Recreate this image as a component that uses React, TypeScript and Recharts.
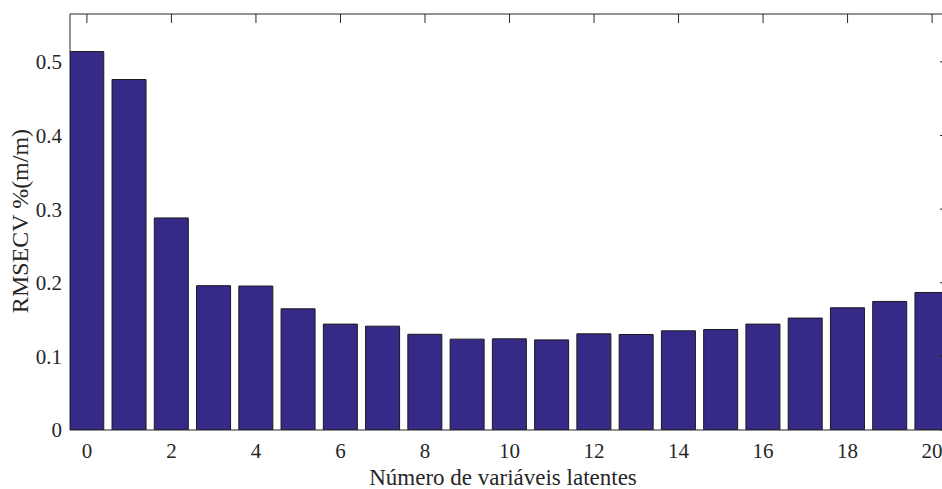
import React from 'react';
import { BarChart, Bar, XAxis, YAxis } from 'recharts';

// Number of latent variables (x) and cross-validation error (y)
const latentVariables = [0, 1, 2, 3, 4, 5, 6, 7, 8, 9, 10, 11, 12, 13, 14, 15, 16, 17, 18, 19, 20];
const rmsecv = [
  0.514, 0.476, 0.288, 0.196, 0.1955, 0.1646, 0.1438, 0.141, 0.13, 0.1234, 0.1238,
  0.1224, 0.1306, 0.1297, 0.1347, 0.1365, 0.1438, 0.152, 0.166, 0.1746, 0.1868,
];
const xTicks = [0, 2, 4, 6, 8, 10, 12, 14, 16, 18, 20];
const yTicks = [0, 0.1, 0.2, 0.3, 0.4, 0.5];
const xDomain: [number, number] = [-0.4, 20.4];
const yDomain: [number, number] = [0, 0.565];

const data = latentVariables.map((lv, i) => ({ lv, rmsecv: rmsecv[i] }));

const FONT = '"Liberation Serif", "Times New Roman", serif';
const INK = '#262626';
const TICK_LEN = 9;
const BOX_TOP = 14;

// Bottom tick label, plus the matching inward tick on the top edge of the box
const XTick = (props: any) => (
  <g>
    <line
      x1={props.x}
      y1={BOX_TOP}
      x2={props.x}
      y2={BOX_TOP + TICK_LEN}
      stroke={INK}
      strokeWidth={1}
    />
    <text
      x={props.x}
      y={props.y}
      dy="0.71em"
      textAnchor="middle"
      fontFamily={FONT}
      fontSize={21}
      fill={INK}
    >
      {props.payload.value}
    </text>
  </g>
);

// Inward tick marks on the right edge of the box
const RightTick = (props: any) => (
  <line x1={props.x - TICK_LEN} y1={props.y} x2={props.x} y2={props.y} stroke={INK} strokeWidth={1} />
);

const YTitle = () => (
  <text
    x={28}
    y={221}
    transform="rotate(-90 28 221)"
    textAnchor="middle"
    fontFamily={FONT}
    fontSize={24}
    fill={INK}
  >
    RMSECV %(m/m)
  </text>
);

const XTitle = () => (
  <text x={503} y={485} textAnchor="middle" fontFamily={FONT} fontSize={23} fill={INK}>
    Número de variáveis latentes
  </text>
);

export default function App() {
  return (
    <div
      style={{
        position: 'absolute',
        left: 0,
        top: 0,
        width: 942,
        height: 489,
        overflow: 'hidden',
        background: '#ffffff',
      }}
    >
      <BarChart
        width={960}
        height={489}
        data={data}
        margin={{ top: 13, right: 10, bottom: 0, left: 0 }}
      >
        <XAxis
          xAxisId="b"
          dataKey="lv"
          type="number"
          domain={xDomain}
          ticks={xTicks}
          interval={0}
          allowDataOverflow
          height={59}
          tickLine={false}
          tickSize={0}
          tickMargin={13}
          axisLine={{ stroke: INK, strokeWidth: 1 }}
          tick={XTick}
          label={XTitle}
        />
        <XAxis
          xAxisId="t"
          dataKey="lv"
          orientation="top"
          type="number"
          domain={xDomain}
          ticks={xTicks}
          interval={0}
          allowDataOverflow
          height={1}
          tick={false}
          tickLine={false}
          axisLine={{ stroke: INK, strokeWidth: 1 }}
        />
        <YAxis
          yAxisId="l"
          type="number"
          domain={yDomain}
          ticks={yTicks}
          interval={0}
          allowDataOverflow
          width={70}
          tickLine={false}
          tickSize={0}
          tickMargin={8}
          axisLine={{ stroke: INK, strokeWidth: 1 }}
          tick={{ fill: INK, fontSize: 21, fontFamily: FONT }}
          label={YTitle}
        />
        <YAxis
          yAxisId="r"
          orientation="right"
          type="number"
          domain={yDomain}
          ticks={yTicks}
          interval={0}
          allowDataOverflow
          width={1}
          tick={RightTick}
          tickLine={false}
          tickSize={0}
          tickMargin={0}
          axisLine={{ stroke: INK, strokeWidth: 1 }}
        />
        <Bar
          xAxisId="b"
          yAxisId="l"
          dataKey="rmsecv"
          fill="#352a87"
          stroke="#1a1a1a"
          strokeWidth={1}
          barSize={34}
          isAnimationActive={false}
        />
      </BarChart>
    </div>
  );
}
